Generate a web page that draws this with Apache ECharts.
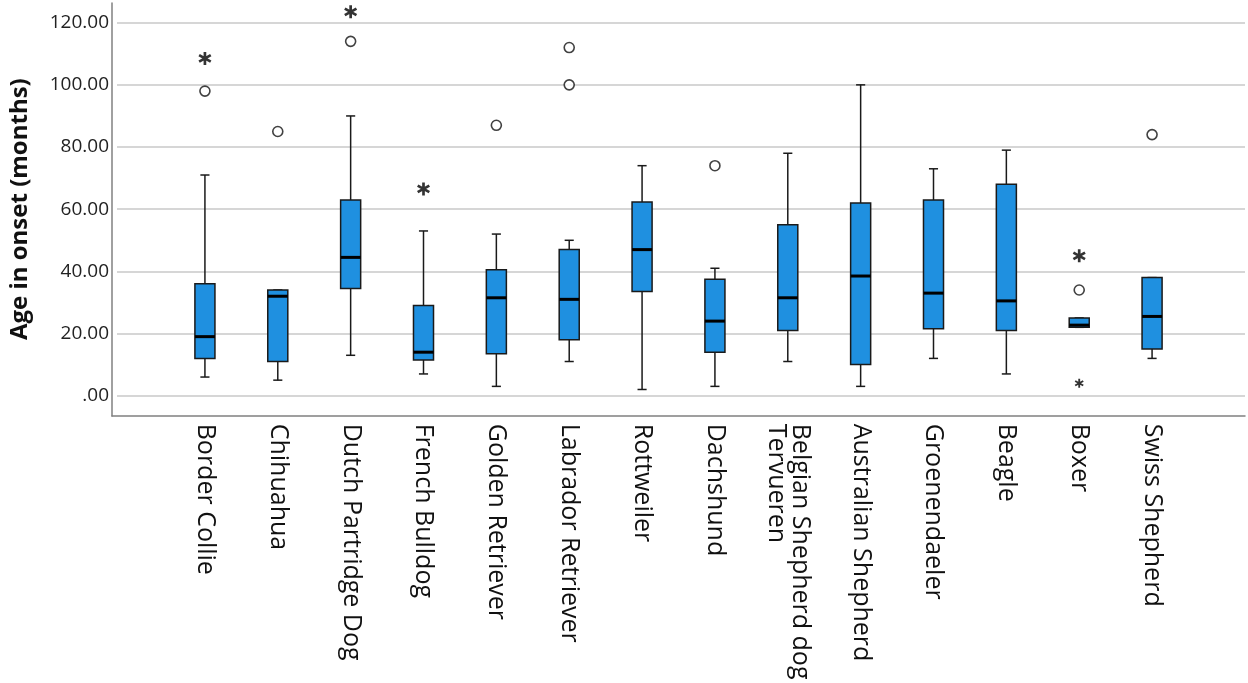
<!DOCTYPE html>
<html>
<head>
<meta charset="UTF-8">
<title>Age in onset by breed</title>
<style>
  html, body { margin: 0; padding: 0; background: #fff; }
  #myChart { width: 1248px; height: 683px; }
</style>
</head>
<body>
<div id="myChart"></div>
<script src="https://cdn.jsdelivr.net/npm/echarts@6/dist/echarts.min.js"></script>
<script>
// breeds, left to right
var categories = ['Border Collie', 'Chihuahua', 'Dutch Partridge Dog', 'French Bulldog',
  'Golden Retriever', 'Labrador Retriever', 'Rottweiler', 'Dachshund',
  'Belgian Shepherd dog\nTervueren', 'Australian Shepherd', 'Groenendaeler', 'Beagle',
  'Boxer', 'Swiss Shepherd'];

// box statistics (months)
var whiskerLow  = [6, 5, 13, 7, 3, 11, 2, 3, 11, 3, 12, 7, 22, 12];
var q1          = [12, 11, 34.5, 11.5, 13.5, 18, 33.5, 14, 21, 10, 21.5, 21, 22, 15];
var median      = [19, 32, 44.5, 14, 31.5, 31, 47, 24, 31.5, 38.5, 33, 30.5, 22.7, 25.5];
var q3          = [36, 34, 63, 29, 40.5, 47, 62.3, 37.5, 55, 62, 63, 68, 25, 38];
var whiskerHigh = [71, 34, 90, 53, 52, 50, 74, 41, 78, 100, 73, 79, 25, 38];

// outliers (circles) and extremes (asterisks): [breed index, months]
var outliers = [[0, 98], [1, 85], [2, 114], [4, 87], [5, 100], [5, 112], [7, 74], [12, 34], [13, 84]];
var extremes = [[0, 108.5], [2, 123.5], [3, 66.5], [12, 45]];
var smallExtremes = [[12, 4]];

var yTicks = { min: 0, max: 120, step: 20 };

// six-armed asterisk made of three bars
var asterisk = 'path://M6 0L4 0L4 10L6 10Z' +
  'M1.17 1.634L0.17 3.366L8.83 8.366L9.83 6.634Z' +
  'M9.83 3.366L8.83 1.634L0.17 6.634L1.17 8.366Z';

var FONT = 'Open Sans';
var myChart = echarts.init(document.getElementById('myChart'));

var boxData = [];
for (var i = 0; i < categories.length; i++) {
  boxData.push([i, whiskerLow[i], q1[i], median[i], q3[i], whiskerHigh[i]]);
}

function renderBox(params, api) {
  var x = api.value(0);
  var lo = api.coord([x, api.value(1)]);
  var b1 = api.coord([x, api.value(2)]);
  var md = api.coord([x, api.value(3)]);
  var b3 = api.coord([x, api.value(4)]);
  var hi = api.coord([x, api.value(5)]);
  var slot = api.size([1, 0])[0];
  var bw = slot * 0.275;
  var cw = slot * 0.125;
  var cx = lo[0];
  var line = { stroke: '#1a1a1a', lineWidth: 1.5 };
  return {
    type: 'group',
    children: [
      { type: 'line', shape: { x1: cx, y1: lo[1], x2: cx, y2: hi[1] }, style: line },
      { type: 'line', shape: { x1: cx - cw / 2, y1: lo[1], x2: cx + cw / 2, y2: lo[1] }, style: line },
      { type: 'line', shape: { x1: cx - cw / 2, y1: hi[1], x2: cx + cw / 2, y2: hi[1] }, style: line },
      { type: 'rect', shape: { x: cx - bw / 2, y: b3[1], width: bw, height: b1[1] - b3[1] },
        style: { fill: '#1f90e0', stroke: '#1a1a1a', lineWidth: 1.5 } },
      { type: 'line', shape: { x1: cx - bw / 2, y1: md[1], x2: cx + bw / 2, y2: md[1] },
        style: { stroke: '#000', lineWidth: 3 } }
    ]
  };
}

var hiddenAxis = { show: false };
var frameLine = { show: true, onZero: false, lineStyle: { color: '#808080', width: 1.5 } };

var option = {
  animation: false,
  grid: [
    { left: 112, right: 3, top: 3, bottom: 267 },
    { left: 112, right: 3, top: 22.7, bottom: 287.3 },
    { left: 168.5, right: 59.5, top: 22.7, bottom: 287.3 }
  ],
  xAxis: [
    { gridIndex: 0, type: 'value', min: 0, max: 1, axisLine: frameLine,
      axisTick: hiddenAxis, axisLabel: hiddenAxis, splitLine: hiddenAxis },
    { gridIndex: 1, type: 'value', min: 0, max: 1, show: false },
    { gridIndex: 2, type: 'category', data: categories,
      axisLine: hiddenAxis, axisTick: hiddenAxis,
      axisLabel: { interval: 0, rotate: -90, margin: 28, fontSize: 25, fontFamily: FONT,
        color: '#111', lineHeight: 24 } }
  ],
  yAxis: [
    { gridIndex: 0, type: 'value', min: 0, max: 1, axisLine: frameLine,
      axisTick: hiddenAxis, axisLabel: hiddenAxis, splitLine: hiddenAxis },
    { gridIndex: 1, type: 'value', min: yTicks.min, max: yTicks.max, interval: yTicks.step,
      name: 'Age in onset (months)', nameLocation: 'middle', nameGap: 85,
      nameTextStyle: { fontFamily: FONT, fontSize: 24, fontWeight: 'bold', color: '#111' },
      axisLine: hiddenAxis, axisTick: hiddenAxis,
      axisLabel: { margin: 8, fontFamily: FONT, fontSize: 19, color: '#222',
        formatter: function (v) { return v === 0 ? '.00' : v.toFixed(2); } },
      splitLine: { show: true, lineStyle: { color: '#c8c8c8', width: 1.5 } } },
    { gridIndex: 2, type: 'value', min: yTicks.min, max: yTicks.max, show: false }
  ],
  series: [
    { type: 'custom', xAxisIndex: 2, yAxisIndex: 2, renderItem: renderBox, data: boxData,
      encode: { x: 0, y: [1, 2, 3, 4, 5] }, clip: false },
    { type: 'scatter', xAxisIndex: 2, yAxisIndex: 2, data: outliers, symbol: 'circle',
      symbolSize: 10, clip: false,
      itemStyle: { color: '#fff', borderColor: '#111', borderWidth: 1.6 } },
    { type: 'scatter', xAxisIndex: 2, yAxisIndex: 2, data: extremes, symbol: asterisk,
      symbolSize: [13, 13], clip: false, itemStyle: { color: '#000' } },
    { type: 'scatter', xAxisIndex: 2, yAxisIndex: 2, data: smallExtremes, symbol: asterisk,
      symbolSize: [9, 9], clip: false, itemStyle: { color: '#000' } }
  ]
};
myChart.setOption(option);
</script>
</body>
</html>
